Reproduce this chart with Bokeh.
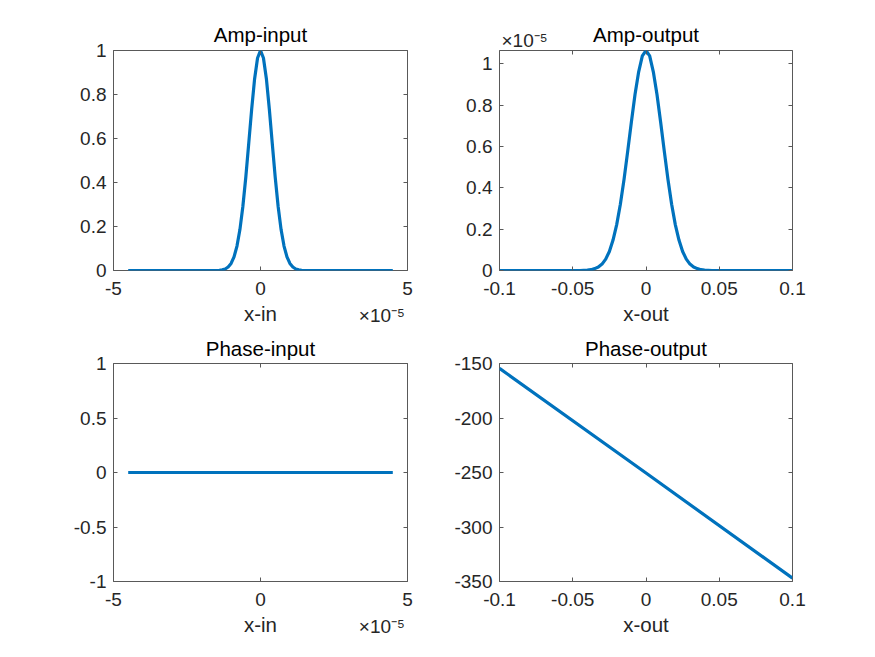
from bokeh.plotting import figure
from bokeh.layouts import column, row
from bokeh.models import (Range1d, FixedTicker, LinearAxis,
                          CustomJSTickFormatter)
from bokeh.embed import file_html
from bokeh.resources import INLINE

# ---------------- data ----------------
# input field, x in units of 1e-5
x_in = [-4.5, -1.6, -1.5, -1.4, -1.3, -1.2, -1.1, -1.0, -0.9, -0.8, -0.7, -0.6,
        -0.5, -0.4, -0.3, -0.2, -0.1, 0.0, 0.1, 0.2, 0.3, 0.4, 0.5, 0.6, 0.7,
        0.8, 0.9, 1.0, 1.1, 1.2, 1.3, 1.4, 1.5, 1.6, 4.5]
amp_in = [0.0, 0.0, 0.0, 0.001, 0.003, 0.007, 0.016, 0.032, 0.062, 0.111, 0.186,
          0.291, 0.424, 0.578, 0.734, 0.872, 0.966, 1.0, 0.966, 0.872, 0.734,
          0.578, 0.424, 0.291, 0.186, 0.111, 0.062, 0.032, 0.016, 0.007, 0.003,
          0.001, 0.0, 0.0, 0.0]
phase_in_x = [-4.5, 4.5]
phase_in = [0.0, 0.0]

# output field, amplitude in units of 1e-5
x_out = [-0.1, -0.045, -0.0425, -0.04, -0.0375, -0.035, -0.0325, -0.03, -0.0275,
         -0.025, -0.0225, -0.02, -0.0175, -0.015, -0.0125, -0.01, -0.0075,
         -0.005, -0.0025, 0.0, 0.0025, 0.005, 0.0075, 0.01, 0.0125, 0.015,
         0.0175, 0.02, 0.0225, 0.025, 0.0275, 0.03, 0.0325, 0.035, 0.0375,
         0.04, 0.0425, 0.045, 0.1]
amp_out = [0.0, 0.0, 0.001, 0.002, 0.004, 0.009, 0.017, 0.031, 0.055, 0.092,
           0.147, 0.222, 0.320, 0.440, 0.576, 0.717, 0.851, 0.961, 1.038, 1.064,
           1.038, 0.961, 0.851, 0.717, 0.576, 0.440, 0.320, 0.222, 0.147, 0.092,
           0.055, 0.031, 0.017, 0.009, 0.004, 0.002, 0.001, 0.0, 0.0]
phase_out_x = [-0.1, 0.0, 0.1]
phase_out = [-154.5, -250.5, -347.0]

titles = ["Amp-input", "Amp-output", "Phase-input", "Phase-output"]
xlabels = ["x-in", "x-out", "x-in", "x-out"]
ticks_in_x = [-5, 0, 5]
ticks_out_x = [-0.1, -0.05, 0, 0.05, 0.1]
ticks_amp_y = [0, 0.2, 0.4, 0.6, 0.8, 1]
ticks_phase_in_y = [-1, -0.5, 0, 0.5, 1]
ticks_phase_out_y = [-350, -300, -250, -200, -150]
exp_text = "\u00d710\u207b\u2075"   # the x10^-5 exponent note
exp_pos_in = 4.13       # x (units 1e-5) where the exponent note is centred
exp_pos_out = -0.0829   # x where the exponent note of Amp-output is centred

# ---------------- style ----------------
FONT = "Liberation Sans"
TICK_FS = "19px"
LABEL_FS = "20.5px"
AX_COLOR = "#595959"
TXT_COLOR = "#262626"
LINE_COLOR = "#0072BD"
LW = 3.2

fmt_code = "return String(Math.round(tick*100000)/100000);"


def style_axis(ax, ticks, show_labels=True):
    ax.ticker = FixedTicker(ticks=ticks)
    ax.major_tick_in = 4
    ax.major_tick_out = 0
    ax.minor_tick_line_color = None
    ax.major_tick_line_color = AX_COLOR
    ax.axis_line_color = None
    ax.major_label_text_font = FONT
    ax.major_label_text_color = TXT_COLOR
    if show_labels:
        ax.formatter = CustomJSTickFormatter(code=fmt_code)
        ax.major_label_text_font_size = TICK_FS
    else:
        ax.formatter = CustomJSTickFormatter(code="return '';")
        ax.major_label_text_font_size = "0px"
        ax.major_label_standoff = 0


def label_style(ax, text, standoff, color="black"):
    ax.axis_label = text
    ax.axis_label_text_font = FONT
    ax.axis_label_text_font_size = LABEL_FS
    ax.axis_label_text_font_style = "normal"
    ax.axis_label_text_color = color
    ax.axis_label_standoff = standoff


def exp_axis(tick, standoff):
    # an axis with no line and no tick mark, used only to carry the note
    ax = LinearAxis(ticker=FixedTicker(ticks=[tick]),
                    formatter=CustomJSTickFormatter(args=dict(t=exp_text),
                                                    code="return t;"))
    ax.axis_line_color = None
    ax.major_tick_line_color = None
    ax.minor_tick_line_color = None
    ax.major_tick_in = 0
    ax.major_tick_out = 0
    ax.major_label_standoff = standoff
    ax.major_label_text_font = FONT
    ax.major_label_text_font_size = TICK_FS
    ax.major_label_text_color = TXT_COLOR
    return ax


def make_fig(w, h, bl, br, bt, bb, xr, yr, xt, yt, title, xlabel,
             title_mode="title"):
    p = figure(width=w, height=h, x_range=Range1d(*xr), y_range=Range1d(*yr),
               output_backend="svg", toolbar_location=None,
               min_border_left=bl, min_border_right=br,
               min_border_top=bt, min_border_bottom=bb,
               background_fill_color="white", border_fill_color="white")
    p.xgrid.visible = False
    p.ygrid.visible = False
    p.outline_line_color = AX_COLOR
    p.outline_line_width = 1
    style_axis(p.xaxis[0], xt)
    style_axis(p.yaxis[0], yt)
    p.xaxis[0].major_label_standoff = 11
    p.yaxis[0].major_label_standoff = 7
    label_style(p.xaxis[0], xlabel, 4, TXT_COLOR)
    top = LinearAxis()
    style_axis(top, xt, show_labels=False)
    p.add_layout(top, "above")
    right = LinearAxis()
    style_axis(right, yt, show_labels=False)
    p.add_layout(right, "right")
    if title_mode == "title":
        p.title.text = title
        p.title.align = "center"
        p.title.text_font = FONT
        p.title.text_font_size = LABEL_FS
        p.title.text_font_style = "normal"
        p.title.text_color = "black"
        p.title.standoff = 10
    else:
        p.title.visible = False
        if title_mode == "axis":
            label_style(top, title, 4)
    return p


W1, W2 = 443, 424
H1, H2 = 333, 316

# top-left
p1 = make_fig(W1, H1, 113, 36, 50, 63, (-5, 5), (0, 1), ticks_in_x, ticks_amp_y,
              titles[0], xlabels[0])
p1.line(x_in, amp_in, line_color=LINE_COLOR, line_width=LW, line_join="round")
p1.add_layout(exp_axis(exp_pos_in, -23), "below")

# top-right: title carried as the label of an upper axis, next to the note
p2 = make_fig(W2, H1, 56, 75, 50, 63, (-0.1, 0.1), (0, 1.064), ticks_out_x,
              ticks_amp_y, titles[1], xlabels[1], title_mode="none")
p2.line(x_out, amp_out, line_color=LINE_COLOR, line_width=LW, line_join="round")
ax2 = exp_axis(exp_pos_out, 0)
label_style(ax2, titles[1], -19)
p2.add_layout(ax2, "above")

# bottom-left
p3 = make_fig(W1, H2, 113, 36, 29, 68, (-5, 5), (-1, 1), ticks_in_x,
              ticks_phase_in_y, titles[2], xlabels[2], title_mode="axis")
p3.line(phase_in_x, phase_in, line_color=LINE_COLOR, line_width=LW)
p3.add_layout(exp_axis(exp_pos_in, -23), "below")

# bottom-right
p4 = make_fig(W2, H2, 56, 75, 29, 68, (-0.1, 0.1), (-350, -150), ticks_out_x,
              ticks_phase_out_y, titles[3], xlabels[3], title_mode="axis")
p4.line(phase_out_x, phase_out, line_color=LINE_COLOR, line_width=LW)

layout = column(row(p1, p2), row(p3, p4))

open("out.html", "w").write(file_html(layout, INLINE))
